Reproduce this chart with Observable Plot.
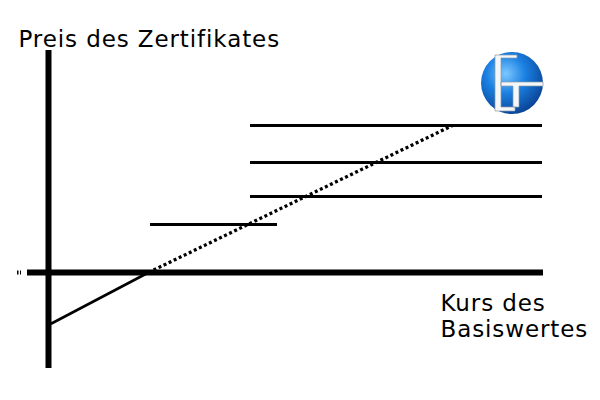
<!DOCTYPE html>
<html><head><meta charset="utf-8">
<script src="https://cdn.jsdelivr.net/npm/d3@7"></script>
<script src="https://cdn.jsdelivr.net/npm/@observablehq/plot@0.6"></script>
<style>body{margin:0;background:#fff} svg text{letter-spacing:0.9px}</style>
</head><body><div id="chart"></div>
<script>
// Schematic payoff diagram. Horizontal unit: Kurs des Basiswertes, vertical unit: Preis des Zertifikates
const yAxisLabel = "Preis des Zertifikates";
const xAxisLabel = "Kurs des\nBasiswertes";
const axisX = {x1: -21, x2: 495};
const axisY = {y1: -96, y2: 222};
const lossSegment = [{x: 3, y: -51}, {x: 100, y: 0}];
const underlyingLine = [{x: 100, y: 0}, {x: 404, y: 147}];
const capX1 = [102, 202, 202, 202];
const capX2 = [229, 494, 494, 494];
const capY = [48, 76, 110, 147];
const logoPos = {x: 464, y: 189, r: 31};

const caps = capY.map((y, i) => ({x1: capX1[i], x2: capX2[i], y}));

function logoMark(index, scales) {
  const cx = scales.x(logoPos.x), cy = scales.y(logoPos.y), r = logoPos.r;
  const g = d3.create("svg:g");
  const grad = g.append("defs").append("radialGradient").attr("id", "lg")
    .attr("cx", "40%").attr("cy", "35%").attr("r", "70%");
  grad.append("stop").attr("offset", "0%").attr("stop-color", "#7cc8ff");
  grad.append("stop").attr("offset", "45%").attr("stop-color", "#1a80e2");
  grad.append("stop").attr("offset", "100%").attr("stop-color", "#0a3f90");
  g.append("circle").attr("cx", cx).attr("cy", cy).attr("r", r).attr("fill", "url(#lg)");
  const s = (dx, dy) => `${cx + dx},${cy + dy}`;
  const glyph = [
    // I with serifs
    `M${s(-17,-28)}L${s(5,-28)}L${s(5,-25)}L${s(-11,-25)}L${s(-11,24)}L${s(3,24)}L${s(3,28)}L${s(-17,28)}Z`,
    // T
    `M${s(-11,-1)}L${s(31,-1)}L${s(31,3)}L${s(7,3)}L${s(7,24)}L${s(1,24)}L${s(1,3)}L${s(-11,3)}Z`
  ];
  g.append("path").attr("d", glyph.join("")).attr("fill", "#f4f6f8")
    .attr("stroke", "#8899aa").attr("stroke-width", 0.7);
  return g.node();
}

const plot = Plot.plot({
  width: 600, height: 400,
  margin: 0,
  x: {domain: [-48, 552], range: [0, 600], axis: null},
  y: {domain: [-128, 272], range: [400, 0], axis: null},
  style: {background: "#fff", fontFamily: "DejaVu Sans, sans-serif"},
  marks: [
    logoMark,
    Plot.ruleY([0], {x1: -31, x2: -27, stroke: "#000", strokeWidth: 4, strokeDasharray: "1.5,1.5"}),
    Plot.ruleY([0], {x1: axisX.x1, x2: axisX.x2, stroke: "#000", strokeWidth: 6}),
    Plot.ruleX([0], {y1: axisY.y1, y2: axisY.y2, stroke: "#000", strokeWidth: 6}),
    Plot.line(lossSegment, {x: "x", y: "y", stroke: "#000", strokeWidth: 2.6}),
    Plot.line(underlyingLine, {x: "x", y: "y", stroke: "#000", strokeWidth: 3.3, strokeLinecap: "butt", strokeDasharray: "3,2.6"}),
    Plot.ruleY(caps, {x1: "x1", x2: "x2", y: "y", stroke: "#000", strokeWidth: 3}),
    Plot.text([yAxisLabel], {frameAnchor: "top-left", dx: 18, dy: 46, text: d => d, textAnchor: "start", lineAnchor: "bottom", fontSize: 23, fill: "#000"}),
    Plot.text([xAxisLabel], {frameAnchor: "top-left", dx: 440, dy: 336, text: d => d, textAnchor: "start", lineAnchor: "bottom", lineHeight: 1.13, fontSize: 23, fill: "#000"})
  ]
});
document.getElementById("chart").appendChild(plot);
</script>
</body></html>
